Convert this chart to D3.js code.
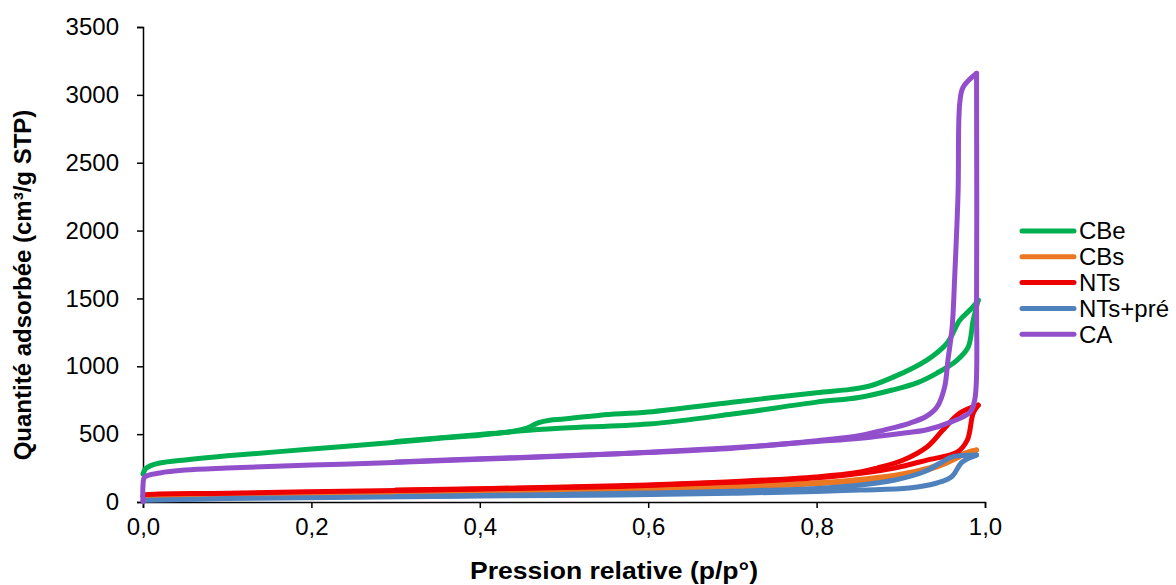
<!DOCTYPE html>
<html><head><meta charset="utf-8">
<script src="https://cdn.jsdelivr.net/npm/d3@7"></script>
<style>
html,body{margin:0;padding:0;background:#fff;}
svg{display:block;font-family:"Liberation Sans",Arial,sans-serif;}
</style></head>
<body><svg id="c" width="1176" height="585"></svg>
<script>
// ---- data ----
const seriesNames = ["CBe", "CBs", "NTs", "NTs+pré", "CA"];
const seriesColors = ["#00B050", "#EB7722", "#EE0000", "#4F81BD", "#924FCB"];
const xTicks = [0, 0.2, 0.4, 0.6, 0.8, 1.0];
const yTicks = [0, 500, 1000, 1500, 2000, 2500, 3000, 3500];

// adsorption branches (p/p°, quantity)
const cbeAds = [[0,205],[0.003,245],[0.01,270],[0.02,287],[0.05,310],[0.1,340],[0.2,390],[0.3,440],[0.35,468],[0.4,492],[0.45,525],[0.5,545],[0.6,574],[0.7,648],[0.8,736],[0.85,770],[0.89,825],[0.92,880],[0.943,950],[0.967,1046],[0.98,1141],[0.986,1340],[0.992,1487]];
const cbeDes = [[0.992,1487],[0.983,1420],[0.97,1340],[0.955,1171],[0.931,1046],[0.891,920],[0.863,855],[0.84,830],[0.8,805],[0.7,735],[0.6,663],[0.543,640],[0.5,612],[0.483,603],[0.47,585],[0.456,545],[0.44,522],[0.4,497],[0.3,445]];

const cbsAds = [[0,35],[0.1,50],[0.3,63],[0.5,80],[0.566,88],[0.7,110],[0.8,135],[0.863,162],[0.9,190],[0.943,258],[0.967,324],[0.98,368],[0.99,383]];
const cbsDes = [[0.99,383],[0.97,345],[0.95,290],[0.93,245],[0.9,205],[0.86,172],[0.8,142],[0.7,116],[0.6,96],[0.5,85],[0.4,75],[0.3,68]];

const ntsAds = [[0,45],[0.002,52],[0.1,65],[0.281,83],[0.4,95],[0.566,115],[0.7,145],[0.8,178],[0.852,212],[0.891,248],[0.931,309],[0.967,368],[0.979,457],[0.986,655],[0.992,714]];
const ntsDes = [[0.992,714],[0.97,655],[0.95,530],[0.931,405],[0.903,309],[0.872,250],[0.852,221],[0.8,185],[0.7,150],[0.6,126],[0.5,110],[0.4,98],[0.3,88]];

const ntpAds = [[0,12],[0.1,25],[0.281,37],[0.4,45],[0.566,52],[0.7,64],[0.8,78],[0.852,88],[0.91,103],[0.943,140],[0.96,184],[0.973,295],[0.99,346]];
const ntpDes = [[0.99,346],[0.96,331],[0.947,287],[0.927,221],[0.893,162],[0.852,125],[0.8,100],[0.7,80],[0.6,66],[0.5,56],[0.4,48],[0.3,40]];

const caAds = [[0,0],[0,120],[0.002,184],[0.02,214],[0.05,235],[0.1,250],[0.2,272],[0.281,287],[0.4,315],[0.566,355],[0.7,400],[0.8,445],[0.852,470],[0.9,505],[0.931,532],[0.96,590],[0.982,660],[0.988,760],[0.99,1539],[0.99,3012],[0.99,3159]];
const caDes = [[0.99,3159],[0.974,3056],[0.97,2938],[0.968,2275],[0.964,1657],[0.961,1289],[0.956,1046],[0.952,847],[0.943,700],[0.93,630],[0.911,582],[0.88,530],[0.852,490],[0.8,452],[0.7,396],[0.6,365],[0.5,340],[0.4,318],[0.3,295]];

const seriesData = [[cbeAds, cbeDes],[cbsAds, cbsDes],[ntsAds, ntsDes],[ntpAds, ntpDes],[caAds, caDes]];

// ---- layout ----
const svg = d3.select("#c");
const L = 143, R = 985, T = 27, B = 502;
const x = d3.scaleLinear().domain([0, 1]).range([L, R]);
const y = d3.scaleLinear().domain([0, 3500]).range([B, T]);

const fmt = d => d3.format(".1f")(d).replace(".", ",");

const xAxis = svg.append("g").attr("transform", `translate(0,${B})`)
  .call(d3.axisBottom(x).tickValues(xTicks).tickFormat(fmt).tickSizeOuter(0).tickSize(6).tickPadding(10));
const yAxis = svg.append("g").attr("transform", `translate(${L},0)`)
  .call(d3.axisLeft(y).tickValues(yTicks).tickFormat(d3.format("d")).tickSizeOuter(0).tickSize(6).tickPadding(18));
[xAxis, yAxis].forEach(g => {
  g.selectAll("path.domain").attr("stroke", "#000").attr("stroke-width", 1.5);
  g.selectAll(".tick line").attr("stroke", "#000").attr("stroke-width", 1.5);
  g.selectAll("text").attr("fill", "#000").style("font-size", "24px").style("font-family", "'Liberation Sans',Arial,sans-serif");
});

const line = d3.line().x(d => x(d[0])).y(d => y(d[1])).curve(d3.curveCatmullRom.alpha(0.5));

seriesData.forEach((s, i) => {
  s.forEach(branch => {
    svg.append("path").attr("d", line(branch)).attr("fill", "none")
      .attr("stroke", seriesColors[i]).attr("stroke-width", 5)
      .attr("stroke-linejoin", "round").attr("stroke-linecap", "round");
  });
});

// axis titles
svg.append("text").attr("x", 470).attr("y", 579).attr("text-anchor", "start")
  .attr("textLength", 288).attr("lengthAdjust", "spacingAndGlyphs")
  .style("font-size", "24px").style("font-weight", "bold").text("Pression relative (p/p°)");
svg.append("text").attr("transform", `translate(31,285) rotate(-90)`).attr("text-anchor", "middle")
  .style("font-size", "24px").style("font-weight", "bold").text("Quantité adsorbée (cm³/g STP)");

// legend
const lg = svg.append("g");
seriesNames.forEach((n, i) => {
  const yy = 231 + i * 25.8;
  lg.append("line").attr("x1", 1022).attr("x2", 1074).attr("y1", yy).attr("y2", yy)
    .attr("stroke", seriesColors[i]).attr("stroke-width", 5).attr("stroke-linecap", "round");
  lg.append("text").attr("x", 1079).attr("y", yy).attr("dy", "0.35em")
    .style("font-size", "24px").text(n);
});
</script></body></html>
